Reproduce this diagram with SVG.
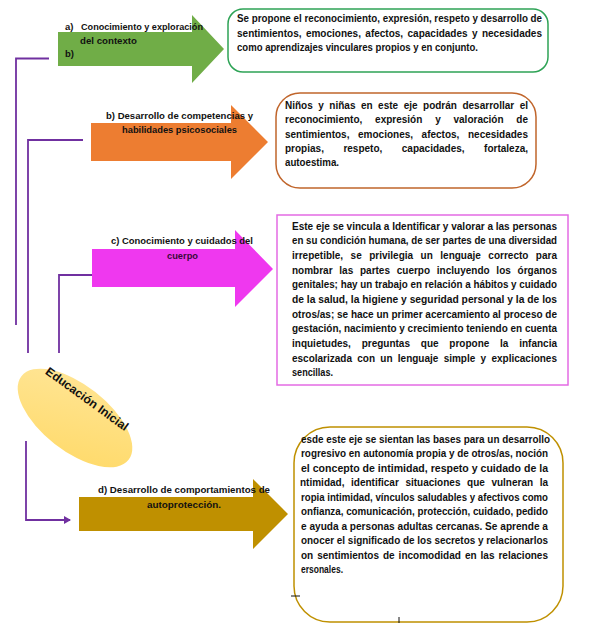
<svg xmlns="http://www.w3.org/2000/svg" width="590" height="623" viewBox="0 0 590 623">
<style>
text{font-family:"Liberation Sans",Arial,sans-serif;font-weight:bold;fill:#111;}
.lbl{font-size:9.5px;}
.bx{font-size:10px;}
.conn{fill:none;stroke:#7030A0;stroke-width:1.8;}
</style>
<defs>
<linearGradient id="yg" x1="0" y1="0" x2="1" y2="1">
<stop offset="0" stop-color="#FFE699"/>
<stop offset="1" stop-color="#FFD966"/>
</linearGradient>
<marker id="ah" markerWidth="8" markerHeight="8" refX="6" refY="4" orient="auto" markerUnits="userSpaceOnUse">
<path d="M0,0 L7,4 L0,8 z" fill="#7030A0"/>
</marker>
<clipPath id="c4"><rect x="299" y="420" width="291" height="203"/></clipPath>
</defs>
<rect width="590" height="623" fill="#fff"/>

<g id="connectors">
<path class="conn" d="M49,58.5 H16 V325"/>
<path class="conn" d="M83,140 H28 V353"/>
<path class="conn" d="M92,275 H59 V353"/>
<path class="conn" d="M26,441 V520 H70" marker-end="url(#ah)"/>
</g>

<g id="arrow-a">
<polygon points="58,32 192,32 192,15 224,49 192,83 192,66 58,66" fill="#70AD47"/>
<text class="lbl" x="65" y="30">a)</text>
<text class="lbl" x="81" y="30" textLength="122" lengthAdjust="spacingAndGlyphs">Conocimiento y exploración</text>
<text class="lbl" x="80" y="44" textLength="57" lengthAdjust="spacingAndGlyphs">del contexto</text>
<text class="lbl" x="65" y="57">b)</text>
</g>

<g id="box-a">
<rect x="228" y="9" width="320" height="63" rx="15" fill="#fff" stroke="#2EA356" stroke-width="1.5"/>
<text class="bx" x="237" y="22" textLength="305" lengthAdjust="spacingAndGlyphs">Se propone el reconocimiento, expresión, respeto y desarrollo de</text>
<text class="bx" x="237" y="36.5" textLength="305" lengthAdjust="spacingAndGlyphs" word-spacing="1.6">sentimientos, emociones, afectos, capacidades y necesidades</text>
<text class="bx" x="237" y="51" textLength="241" lengthAdjust="spacingAndGlyphs">como aprendizajes vinculares propios y en conjunto.</text>
</g>

<g id="arrow-b">
<polygon points="91,123 231,123 231,105 268,142 231,179 231,161 91,161" fill="#ED7D31"/>
<text class="lbl" x="106" y="119" textLength="147" lengthAdjust="spacingAndGlyphs">b) Desarrollo de competencias y</text>
<text class="lbl" x="122" y="133" textLength="115" lengthAdjust="spacingAndGlyphs">habilidades psicosociales</text>
</g>

<g id="box-b">
<rect x="276" y="93" width="260" height="95" rx="24" fill="#fff" stroke="#C0652B" stroke-width="1.5"/>
<text class="bx" x="285" y="108.5" textLength="243" lengthAdjust="spacingAndGlyphs" word-spacing="2.7">Niños y niñas en este eje podrán desarrollar el</text>
<text class="bx" x="285" y="123" textLength="243" lengthAdjust="spacingAndGlyphs" word-spacing="10">reconocimiento, expresión y valoración de</text>
<text class="bx" x="285" y="137.5" textLength="243" lengthAdjust="spacingAndGlyphs" word-spacing="5.8">sentimientos, emociones, afectos, necesidades</text>
<text class="bx" x="285" y="152" textLength="243" lengthAdjust="spacingAndGlyphs" word-spacing="16.7">propias, respeto, capacidades, fortaleza,</text>
<text class="bx" x="285" y="166" textLength="54" lengthAdjust="spacingAndGlyphs">autoestima.</text>
</g>

<g id="arrow-c">
<polygon points="92,249 235,249 235,230 273,269 235,307 235,287 92,287" fill="#EF38EF"/>
<text class="lbl" x="111" y="244" textLength="142" lengthAdjust="spacingAndGlyphs">c) Conocimiento y cuidados del</text>
<text class="lbl" x="167" y="259" textLength="31" lengthAdjust="spacingAndGlyphs" style="fill:#3a0a3a">cuerpo</text>
</g>

<g id="box-c">
<rect x="277" y="215" width="291" height="170" fill="#fff" stroke="#E46BE4" stroke-width="1.5"/>
<text class="bx" x="292" y="229.5" textLength="265" lengthAdjust="spacingAndGlyphs">Este eje se vincula a Identificar y valorar a las personas</text>
<text class="bx" x="292" y="244" textLength="265" lengthAdjust="spacingAndGlyphs">en su condición humana, de ser partes de una diversidad</text>
<text class="bx" x="292" y="258.8" textLength="265" lengthAdjust="spacingAndGlyphs" word-spacing="4.7">irrepetible, se privilegia un lenguaje correcto para</text>
<text class="bx" x="292" y="273.5" textLength="265" lengthAdjust="spacingAndGlyphs" word-spacing="4">nombrar las partes cuerpo incluyendo los órganos</text>
<text class="bx" x="292" y="288" textLength="265" lengthAdjust="spacingAndGlyphs">genitales; hay un trabajo en relación a hábitos y cuidado</text>
<text class="bx" x="292" y="302.8" textLength="265" lengthAdjust="spacingAndGlyphs">de la salud, la higiene y seguridad personal y la de los</text>
<text class="bx" x="292" y="317.5" textLength="265" lengthAdjust="spacingAndGlyphs">otros/as; se hace un primer acercamiento al proceso de</text>
<text class="bx" x="292" y="332" textLength="265" lengthAdjust="spacingAndGlyphs">gestación, nacimiento y crecimiento teniendo en cuenta</text>
<text class="bx" x="292" y="346.8" textLength="265" lengthAdjust="spacingAndGlyphs" word-spacing="8">inquietudes, preguntas que propone la infancia</text>
<text class="bx" x="292" y="361.5" textLength="265" lengthAdjust="spacingAndGlyphs" word-spacing="2.5">escolarizada con un lenguaje simple y explicaciones</text>
<text class="bx" x="292" y="376" textLength="41" lengthAdjust="spacingAndGlyphs">sencillas.</text>
</g>

<g id="educacion-inicial">
<ellipse cx="75" cy="418" rx="68" ry="33" transform="rotate(38 75 418)" fill="url(#yg)"/>
<text x="0" y="4" transform="translate(87,399) rotate(36)" text-anchor="middle" style="font-size:12px" textLength="99" lengthAdjust="spacingAndGlyphs">Educación Inicial</text>
</g>

<g id="arrow-d">
<polygon points="79,497 253,497 253,479 288,514 253,549 253,531 79,531" fill="#BF9000"/>
<text class="lbl" x="98" y="493" textLength="172" lengthAdjust="spacingAndGlyphs">d) Desarrollo de comportamientos de</text>
<text class="lbl" x="147" y="508" textLength="74" lengthAdjust="spacingAndGlyphs">autoprotección.</text>
</g>

<g id="box-d">
<rect x="294" y="427" width="269" height="195" rx="36" fill="#fff" stroke="#BF9000" stroke-width="1.5"/>
<g clip-path="url(#c4)">
<text class="bx" x="301" y="442.5" textLength="249" lengthAdjust="spacingAndGlyphs">esde este eje se sientan las bases para un desarrollo</text>
<text class="bx" x="301" y="457" textLength="247" lengthAdjust="spacingAndGlyphs">rogresivo en autonomía propia y de otros/as, noción</text>
<text class="bx" x="301" y="471.5" textLength="247" lengthAdjust="spacingAndGlyphs">el concepto de intimidad, respeto y cuidado de la</text>
<text class="bx" x="300" y="486" textLength="248" lengthAdjust="spacingAndGlyphs" word-spacing="3.8">ntimidad, identificar situaciones que vulneran la</text>
<text class="bx" x="301" y="500.5" textLength="247" lengthAdjust="spacingAndGlyphs">ropia intimidad, vínculos saludables y afectivos como</text>
<text class="bx" x="301" y="515" textLength="247" lengthAdjust="spacingAndGlyphs">onfianza, comunicación, protección, cuidado, pedido</text>
<text class="bx" x="301" y="529.5" textLength="247" lengthAdjust="spacingAndGlyphs">e ayuda a personas adultas cercanas. Se aprende a</text>
<text class="bx" x="301" y="544" textLength="247" lengthAdjust="spacingAndGlyphs">onocer el significado de los secretos y relacionarlos</text>
<text class="bx" x="301" y="558.5" textLength="247" lengthAdjust="spacingAndGlyphs" word-spacing="1.2">on sentimientos de incomodidad en las relaciones</text>
<text class="bx" x="301" y="573" textLength="42" lengthAdjust="spacingAndGlyphs">ersonales.</text>
</g>
<path d="M291,596 H300 M399,617 V623" stroke="#111" stroke-width="1" fill="none"/>
</g>
</svg>
